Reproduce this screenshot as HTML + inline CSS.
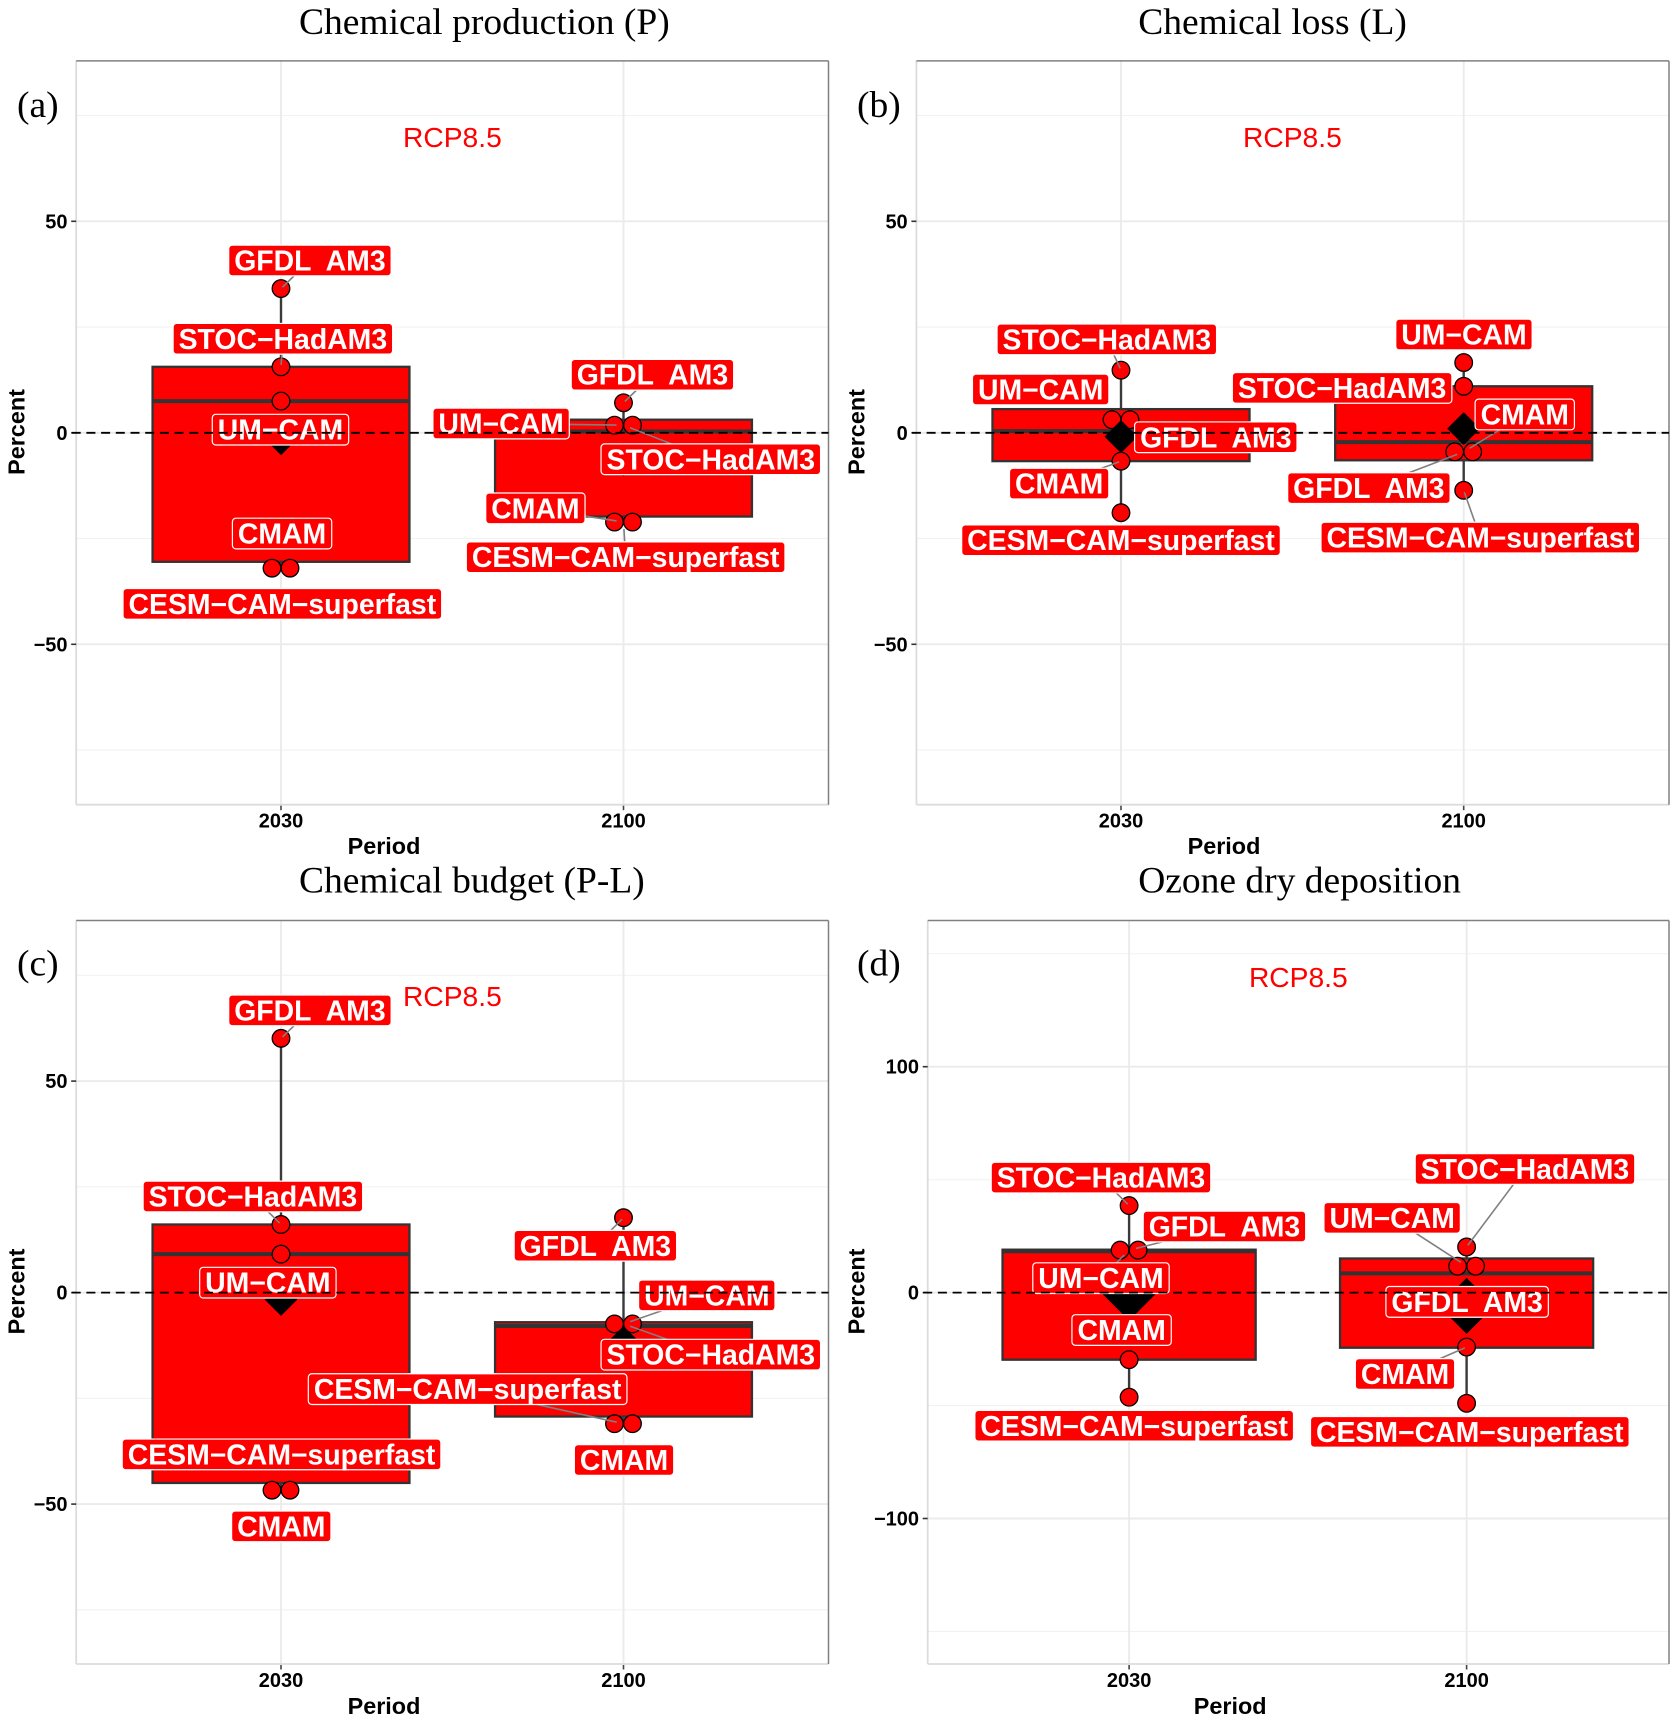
<!DOCTYPE html>
<html lang="en">
<head>
<meta charset="utf-8">
<title>Ozone budget changes under RCP8.5</title>
<style>
html,body{margin:0;padding:0;background:#fff;}
svg{display:block;}
text{white-space:pre;}
.title,.tag{font-family:"Liberation Serif",serif;font-size:37.5px;fill:#000;}
.rcp{font-family:"Liberation Sans",sans-serif;font-size:28.2px;fill:#f00;text-anchor:middle;}
.axis-title{font-family:"Liberation Sans",sans-serif;font-weight:bold;font-size:23.4px;fill:#000;text-anchor:middle;}
.tick{font-family:"Liberation Sans",sans-serif;font-weight:bold;font-size:20px;fill:#000;}
.model-label{font-family:"Liberation Sans",sans-serif;font-weight:bold;font-size:28.4px;fill:#fff;text-anchor:middle;}
</style>
</head>
<body>
<svg id="figure" xmlns="http://www.w3.org/2000/svg" width="1678" height="1723" viewBox="0 0 1678 1723">
  <rect width="1678" height="1723" fill="#fff"/>
  <g id="plots"></g>

  <text class="title" x="299" y="34">Chemical production (P)</text>
  <text class="title" x="1138.2" y="34">Chemical loss (L)</text>
  <text class="title" x="299" y="892.5">Chemical budget (P-L)</text>
  <text class="title" x="1138.2" y="892.5">Ozone dry deposition</text>

  <text class="tag" x="17" y="117">(a)</text>
  <text class="tag" x="857" y="117">(b)</text>
  <text class="tag" x="17" y="975.6">(c)</text>
  <text class="tag" x="857" y="975.6">(d)</text>

  <text class="rcp" x="452.4" y="147">RCP8.5</text>
  <text class="rcp" x="1292.4" y="147">RCP8.5</text>
  <text class="rcp" x="452.4" y="1005.8">RCP8.5</text>
  <text class="rcp" x="1298.3" y="987">RCP8.5</text>

  <text class="axis-title" x="384" y="854">Period</text>
  <text class="axis-title" x="1224" y="854">Period</text>
  <text class="axis-title" x="384" y="1714">Period</text>
  <text class="axis-title" x="1230.2" y="1714">Period</text>

  <text class="axis-title" transform="translate(24.6 432) rotate(-90)">Percent</text>
  <text class="axis-title" transform="translate(864.6 432) rotate(-90)">Percent</text>
  <text class="axis-title" transform="translate(24.6 1291.5) rotate(-90)">Percent</text>
  <text class="axis-title" transform="translate(864.6 1291.5) rotate(-90)">Percent</text>
</svg>

<script>
// ---------- data ----------
const periods = ["2030", "2100"];
const models = ["GFDL  AM3", "STOC\u2212HadAM3", "UM\u2212CAM", "CMAM", "CESM\u2212CAM\u2212superfast"];

const majorTicksPercent = [50, 0, -50];
const minorTicksPercent = [75, 25, -25, -75];
const majorTicksDeposition = [100, 0, -100];
const minorTicksDeposition = [150, 50, -50, -150];

// model values, order follows `models`
const productionValues2030 = [34.1, 15.6, 7.5, -32, -32];
const productionValues2100 = [7.1, 1.8, 1.8, -21.1, -21.1];
const productionBoxLow = [-30.5, -19.8];
const productionMedian = [7.5, 0.3];
const productionBoxHigh = [15.6, 3.1];
const productionMean = [-1.4, -6.3];

const lossValues2030 = [3.1, 14.8, 3.1, -6.7, -18.9];
const lossValues2100 = [-4.5, 11, 16.6, -4.5, -13.6];
const lossBoxLow = [-6.7, -6.5];
const lossMedian = [0.4, -2.2];
const lossBoxHigh = [5.6, 11];
const lossMean = [-0.9, 1];

const budgetValues2030 = [60.1, 16.1, 9.1, -46.7, -46.7];
const budgetValues2100 = [17.7, -7.4, -7.4, -31, -31];
const budgetBoxLow = [-45, -29.3];
const budgetMedian = [9.1, -7.9];
const budgetBoxHigh = [16.1, -7];
const budgetMean = [-1.6, -11.8];

const depositionValues2030 = [18.8, 38.5, 18.8, -29.7, -46.3];
const depositionValues2100 = [11.7, 20.2, 11.7, -24.1, -49];
const depositionBoxLow = [-29.7, -24.4];
const depositionMedian = [18.3, 8.5];
const depositionBoxHigh = [19, 15.1];
const depositionMean = [0, -5.9];

// ---------- layout (not data) ----------
const OFFSET_X = 1 / 1.867, OFFSET_Y = 1 / 1.82;
const panels = [
  { id: "a", left: 76.2, right: 828.5, top: 60.9, bottom: 804.7, xA: 281, xB: 623.5, zeroY: 432.8, perUnit: 4.23, diamond: 16.5,
    major: majorTicksPercent, minor: minorTicksPercent,
    values: [productionValues2030, productionValues2100], low: productionBoxLow, med: productionMedian, high: productionBoxHigh, mean: productionMean,
    repel: [
      [[54,-51,1],[3.5,-51,1],[-1,52,0],[2,-63,0],[2.5,65,0]],
      [[54,-51,1],[163,62,1],[-228.5,-3,1],[-164.5,-25,1],[4,64,1]]
    ] },
  { id: "b", left: 916.4, right: 1669, top: 60.9, bottom: 804.7, xA: 1121, xB: 1463.7, zeroY: 432.8, perUnit: 4.23, diamond: 16.5,
    major: majorTicksPercent, minor: minorTicksPercent,
    values: [lossValues2030, lossValues2100], low: lossBoxLow, med: lossMedian, high: lossBoxHigh, mean: lossMean,
    repel: [
      [[177,32,0],[-26.5,-56,1],[-150,-55,0],[-115.5,41,1],[0,50,0]],
      [[-177,66,1],[-227,3,0],[0.5,-51,0],[114,-68,1],[31,86,1]]
    ] },
  { id: "c", left: 76.2, right: 828.5, top: 920.5, bottom: 1664, xA: 281, xB: 623.5, zeroY: 1292.6, perUnit: 4.23, diamond: 16.5,
    major: majorTicksPercent, minor: minorTicksPercent,
    values: [budgetValues2030, budgetValues2100], low: budgetBoxLow, med: budgetMedian, high: budgetBoxHigh, mean: budgetMean,
    repel: [
      [[54,-51,1],[-52.5,-51,1],[-24.5,52,0],[0.5,66,0],[1,-65,0]],
      [[-52.5,51,1],[163,56,1],[155.5,-52,1],[1,66,0],[-291,-63,1]]
    ] },
  { id: "d", left: 927.7, right: 1669, top: 920.5, bottom: 1664, xA: 1129.1, xB: 1466.6, zeroY: 1292.6, perUnit: 2.259, diamond: 28,
    major: majorTicksDeposition, minor: minorTicksDeposition,
    values: [depositionValues2030, depositionValues2100], low: depositionBoxLow, med: depositionMedian, high: depositionBoxHigh, mean: depositionMean,
    repel: [
      [[178,-43,1],[-52.5,-51,1],[-52.5,51,1],[-14,-54,0],[9.5,52,0]],
      [[1,65,0],[109,-142,1],[-139,-88,1],[-115,49,1],[6,52,0]]
    ] }
];

// ---------- drawing ----------
const SVG_NS = "http://www.w3.org/2000/svg";
function make(tag, attrs, parent) {
  const node = document.createElementNS(SVG_NS, tag);
  for (const key in attrs) node.setAttribute(key, attrs[key]);
  parent.appendChild(node);
  return node;
}
function fmt(v) { return v < 0 ? "\u2212" + Math.abs(v) : String(v); }

// side-by-side placement for values that coincide
function dodge(values, spacing) {
  const out = values.map(() => 0);
  const used = values.map(() => false);
  values.forEach((v, i) => {
    if (used[i]) return;
    const group = [];
    values.forEach((w, j) => { if (!used[j] && Math.abs(w - v) < 1) { group.push(j); used[j] = true; } });
    group.forEach((j, k) => { out[j] = (k - (group.length - 1) / 2) * spacing; });
  });
  return out;
}

const root = document.getElementById("plots");

panels.forEach(function (p) {
  const yScale = v => p.zeroY - v * p.perUnit;
  const xScale = i => i === 0 ? p.xA : p.xB;
  const halfBox = 0.375 * (p.xB - p.xA);

  const g = make("g", {}, root);
  
  

  // grid
  p.minor.forEach(function (t) {
    const line = make("line", { x1: p.left, x2: p.right, y1: yScale(t), y2: yScale(t), stroke: "#f2f2f2", "stroke-width": 1.1 }, g);
    
    
  });
  p.major.forEach(function (t) {
    const line = make("line", { x1: p.left, x2: p.right, y1: yScale(t), y2: yScale(t), stroke: "#ebebeb", "stroke-width": 1.9 }, g);
    
    
  });
  periods.forEach(function (label, i) {
    const line = make("line", { x1: xScale(i), x2: xScale(i), y1: p.top, y2: p.bottom, stroke: "#ebebeb", "stroke-width": 1.9 }, g);
    
    
  });

  // panel border
  const bLeft = make("line", { x1: p.left, x2: p.left, y1: p.top, y2: p.bottom, stroke: "#dcdcdc", "stroke-width": 1.8 }, g);
  
  
  const bBottom = make("line", { x1: p.left, x2: p.right, y1: p.bottom, y2: p.bottom, stroke: "#dcdcdc", "stroke-width": 1.8 }, g);
  
  
  const bTop = make("line", { x1: p.left, x2: p.right, y1: p.top, y2: p.top, stroke: "#808080", "stroke-width": 1.5 }, g);
  
  
  const bRight = make("line", { x1: p.right, x2: p.right, y1: p.top, y2: p.bottom, stroke: "#808080", "stroke-width": 1.5 }, g);
  
  

  // y ticks
  p.major.forEach(function (t) {
    const mark = make("line", { x1: p.left - 5, x2: p.left, y1: yScale(t), y2: yScale(t), stroke: "#333", "stroke-width": 1.6 }, g);
    
    
    const label = make("text", { class: "tick", x: p.left - 8.7, y: yScale(t) + 7, "text-anchor": "end" }, g);
    label.textContent = fmt(t);
    
    
  });

  // x ticks
  periods.forEach(function (name, i) {
    const mark = make("line", { x1: xScale(i), x2: xScale(i), y1: p.bottom + 1, y2: p.bottom + 5.5, stroke: "#444", "stroke-width": 1.6 }, g);
    
    
    const label = make("text", { class: "tick", x: xScale(i), y: p.bottom + 23, "text-anchor": "middle" }, g);
    label.textContent = name;
    
    
  });

  // boxes, whiskers
  periods.forEach(function (name, i) {
    const vals = p.values[i];
    const cx = xScale(i);
    const whisker = make("line", { x1: cx, x2: cx, y1: yScale(Math.max.apply(null, vals)), y2: yScale(Math.min.apply(null, vals)), stroke: "#3a3a3a", "stroke-width": 2.4 }, g);
    
    
    const box = make("rect", { x: cx - halfBox, y: yScale(p.high[i]), width: 2 * halfBox, height: yScale(p.low[i]) - yScale(p.high[i]), fill: "#f00", stroke: "#333", "stroke-width": 2.3 }, g);
    
    
    const med = make("line", { x1: cx - halfBox, x2: cx + halfBox, y1: yScale(p.med[i]), y2: yScale(p.med[i]), stroke: "#333", "stroke-width": 4 }, g);
    
    
  });

  // dots and mean diamonds
  periods.forEach(function (name, i) {
    const vals = p.values[i];
    const cx = xScale(i);
    const shift = dodge(vals, 18);
    vals.forEach(function (v, m) {
      const dot = make("circle", { cx: cx + shift[m], cy: yScale(v), r: 8.8, fill: "#f00", stroke: "#000", "stroke-width": 1.3 }, g);
      
      
    });
    const my = yScale(p.mean[i]);
    const d = p.diamond;
    const diamond = make("polygon", { points: [cx, my - d, cx + d, my, cx, my + d, cx - d, my].join(" "), fill: "#000" }, g);
    
    
  });

  // leader segments + labels
  const leaderLayer = make("g", {}, g);
  
  
  const labelLayer = make("g", {}, g);
  
  

  periods.forEach(function (name, i) {
    const vals = p.values[i];
    const cx = xScale(i);
    const shift = dodge(vals, 18);
    vals.forEach(function (v, m) {
      const off = p.repel[i][m];
      const lx = cx + off[0] * OFFSET_X;
      const ly = yScale(v) + off[1] * OFFSET_Y;

      const group = make("g", {}, labelLayer);
      
      
      const rect = make("rect", { fill: "#f00", stroke: "#fff", "stroke-width": 1.2, rx: 3.5, ry: 3.5 }, group);
      
      
      const text = make("text", { class: "model-label", x: lx, y: ly + 10 }, group);
      text.textContent = models[m];
      
      
      const w = text.getComputedTextLength() + 11;
      const h = 30.7;
      rect.setAttribute("x", lx - w / 2);
      rect.setAttribute("y", ly - h / 2);
      rect.setAttribute("width", w);
      rect.setAttribute("height", h);

      if (off[2]) {
        const px = cx, py = yScale(v);
        const dx = px - lx, dy = py - ly;
        const len = Math.hypot(dx, dy) || 1;
        const t = Math.min(dx ? (w / 2) / Math.abs(dx) : 1e9, dy ? (h / 2) / Math.abs(dy) : 1e9);
        const sx = lx + dx * t, sy = ly + dy * t;
        const gap = shift[m] !== 0 ? 7 : 2;
        const seg = make("line", { x1: sx, y1: sy, x2: px - dx / len * gap, y2: py - dy / len * gap, stroke: "#7f7f7f", "stroke-width": 1.6 }, leaderLayer);
        
        
      }
    });
  });

  // zero reference line on top
  const zero = make("line", { x1: p.left - 4.5, x2: p.right, y1: yScale(0), y2: yScale(0), stroke: "#000", "stroke-width": 1.8, "stroke-dasharray": "9 5.7" }, g);
  
  
});
</script>
</body>
</html>
